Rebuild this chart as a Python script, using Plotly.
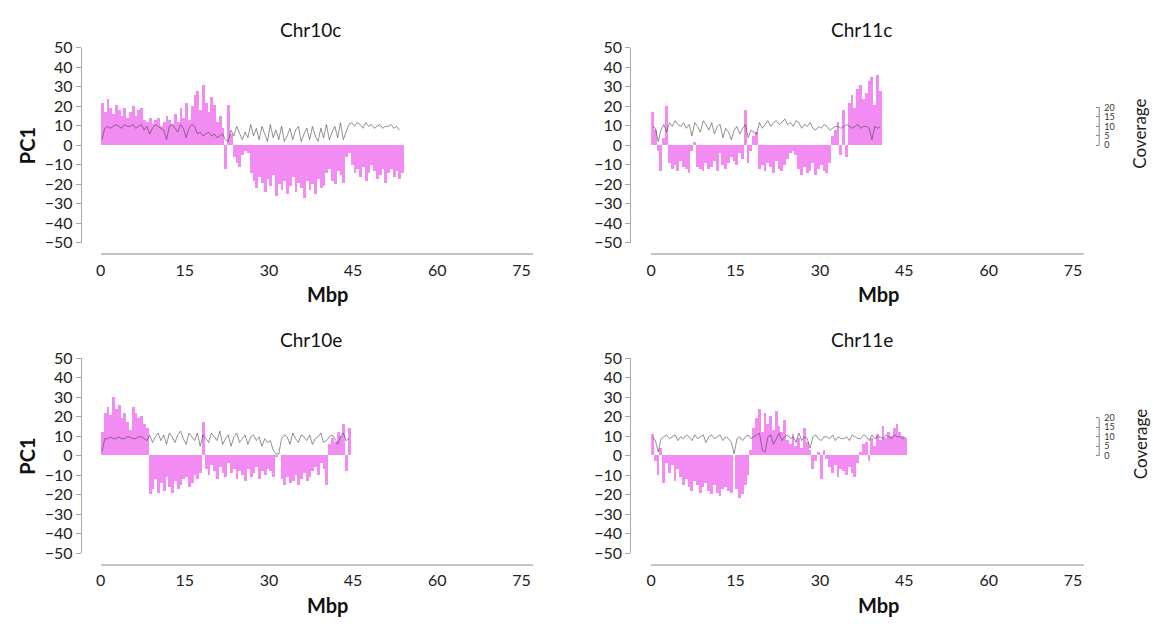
import numpy as np
import plotly.graph_objects as go

BIN = 0.5  # Mbp per bin

titles = ["Chr10c", "Chr11c", "Chr10e", "Chr11e"]
x_ticks = [0, 15, 30, 45, 60, 75]
y_ticks = [-50, -40, -30, -20, -10, 0, 10, 20, 30, 40, 50]
cov_ticks = [0, 5, 10, 15, 20]

pc1_chr10c = [22, 17, 24, 19, 16, 21, 18, 15, 19, 14, 17, 20, 15, 18, 19, 13,
              12, 14, 11, 13, 14, 10, 12, 15, 13, 11, 16, 12, 19, 14, 22, 13,
              20, 26, 28, 18, 31, 22, 17, 25, 21, 12, 15, 9, -12, 21, 6,
              -6, -9, -11, -5, -3, -4, -14, -18, -22, -16, -19, -24, -17, -21,
              -15, -26, -20, -23, -18, -25, -21, -16, -24, -19, -22, -27, -18, -23,
              -20, -25, -17, -22, -21, -14, -12, -18, -20, -13, -15, -19, -6, -4,
              -10, -14, -12, -16, -11, -18, -14, -10, -13, -17, -15, -12, -19, -14,
              -12, -16, -13, -17, -14]
cov_chr10c = [3, 9, 10, 9, 10, 11, 10, 9, 11, 10, 10, 11, 9, 10, 11, 8,
              10, 6, 9, 11, 10, 9, 8, 3, 10, 11, 9, 7, 11, 9, 4, 9,
              11, 10, 6, 7, 5, 6, 7, 5, 6, 4, 5, 6, 3, 2, 8,
              5, 10, 6, 3, 7, 4, 11, 5, 9, 3, 10, 6, 2, 11, 4,
              8, 3, 10, 2, 5, 9, 3, 8, 10, 2, 6, 9, 3, 10, 5,
              2, 9, 4, 11, 3, 7, 10, 4, 12, 3, 7, 11, 12, 10, 12,
              11, 9, 12, 10, 11, 9, 10, 11, 9, 10, 10, 11, 9, 10, 8]

pc1_chr11c = [17, 8, -3, -13, 4, 20, -9, -12, -10, -13, -8, -11, -12, -14, -3, 2,
              -11, -12, -13, -9, -12, -11, -8, -13, -4, -10, -12, -9, -6, -8,
              -10, -4, -7, 18, -9, -3, 5, 7, -12, -10, -13, -9, -11, -14, -8, -12,
              -13, -10, -7, -4, -3, -5, -12, -15, -11, -14, -13, -9, -15, -12,
              -10, -13, -14, -9, 5, 8, 12, -5, 18, -6, 22, 26, 19, 29, 31, 24,
              27, 33, 35, 21, 36, 28]
cov_chr11c = [10, 9, 2, 8, 11, 7, 12, 10, 13, 11, 10, 12, 9, 11, 5, 12,
              10, 7, 13, 11, 8, 12, 6, 10, 11, 4, 9, 7, 3, 8, 10, 6,
              9, 11, 4, 8, 7, 6, 12, 9, 11, 13, 10, 12, 13, 11, 12, 14,
              11, 12, 10, 13, 12, 9, 11, 10, 12, 9, 8, 10, 9, 11, 10, 8,
              9, 10, 10, 9, 10, 11, 10, 9, 10, 11, 9, 10, 10, 9, 3, 10, 9, 10]

pc1_chr10e = [12, 22, 25, 21, 30, 24, 26, 19, 22, 17, 13, 25, 22, 19, 20, 16,
              14, -20, -17, -12, -19, -14, -18, -11, -16, -19, -13, -17, -15, -12,
              -11, -16, -14, -10, -12, -9, 17, -7, -10, -5, -8, -12, -6, -9,
              -11, -4, -9, -7, -12, -8, -10, -13, -7, -11, -9, -6, -12, -8,
              -10, -7, -8, -11, -1, 0, -12, -15, -11, -14, -13, -10, -15, -12,
              -9, -13, -11, -8, -6, -10, -4, -7, -15, 6, 9, 7, 12, 10, 16, -8, 14]
cov_chr10e = [2, 9, 9, 10, 9, 9, 10, 9, 9, 10, 10, 9, 9, 10, 10, 9,
              8, 11, 7, 10, 12, 8, 11, 6, 12, 10, 7, 11, 13, 9, 6, 12,
              10, 8, 12, 5, 11, 9, 7, 12, 10, 8, 13, 6, 9, 11, 5, 10,
              12, 7, 9, 11, 6, 10, 11, 8, 10, 5, 9, 7, 8, 3, 1, 1,
              9, 11, 10, 6, 12, 9, 7, 11, 10, 8, 11, 6, 9, 10, 12, 7,
              8, 10, 11, 9, 6, 10, 12, 8, 9]

pc1_chr11e = [11, -3, -10, 4, -14, -4, -9, -5, -13, -7, -11, -15, -12, -16, -18, -13,
              -15, -19, -16, -14, -18, -20, -15, -19, -21, -17, -16, -18, -19, 0,
              -17, -22, -20, -15, -10, 3, 14, 19, 24, 12, 22, 16, 20, 13, 23, 15,
              12, 18, 8, 6, 11, 5, 9, 4, 14, 7, 3, -7, -3, 2, -12, 3, -2, -6,
              -9, -5, -11, -7, -8, -10, -6, -9, -11, -4, 2, 6, 7, -3, 9, 5,
              11, 8, 15, 9, 12, 10, 14, 16, 12, 10, 9]
cov_chr11e = [10, 8, 2, 9, 10, 11, 9, 10, 11, 8, 10, 9, 11, 10, 8, 11,
              9, 10, 11, 7, 10, 11, 9, 10, 11, 8, 10, 9, 7, 1, 9, 10,
              8, 10, 11, 9, 10, 11, 12, 3, 2, 10, 11, 6, 9, 12, 8, 10,
              11, 9, 10, 7, 12, 8, 10, 9, 4, 10, 11, 9, 8, 10, 10, 9,
              11, 8, 10, 9, 9, 10, 8, 11, 10, 9, 9, 11, 10, 8, 11, 9,
              10, 10, 9, 11, 10, 9, 11, 10, 10, 9, 10]

pc1_series = [pc1_chr10c, pc1_chr11c, pc1_chr10e, pc1_chr11e]
cov_series = [cov_chr10c, cov_chr11c, cov_chr10e, cov_chr11e]

W, H = 1153, 634
def fx(px):
    return px / W
def fy(py):
    return 1 - py / H

# panel geometry in window pixels
cols = [(96, 530, 76), (649, 1084, 628)]   # x_left, x_right, y-axis x
rows = [(39, 240, 252), (359, 560, 572)]   # y_top, y_bottom, x-axis y

PINK = "rgb(242,140,242)"
FONT = "Lato"
fig = go.Figure()
layout = dict(
    width=W, height=H, margin=dict(l=0, r=0, t=0, b=0),
    paper_bgcolor="white", plot_bgcolor="white", showlegend=False,
    font=dict(family=FONT, color="#222"), bargap=0,
)
annotations = []
shapes = []

for i in range(4):
    r, c = divmod(i, 2)
    xl, xr, yx = cols[c]
    yt, yb, xay = rows[r]
    n = i + 1
    xa = "x" if n == 1 else f"x{n}"
    ya = "y" if n == 1 else f"y{n}"
    ca = f"y{n + 4}"
    pc1 = pc1_series[i]
    cov = cov_series[i]
    xs_b = np.arange(len(pc1)) * BIN + BIN / 2
    xs_c = np.arange(len(cov)) * BIN + BIN / 2
    fig.add_trace(go.Bar(x=xs_b, y=pc1, width=BIN, marker=dict(color=PINK, line=dict(width=0)),
                         xaxis=xa, yaxis=ya))
    fig.add_trace(go.Scatter(x=xs_c, y=cov, mode="lines", line=dict(color="rgba(60,60,60,0.7)", width=0.8),
                             xaxis=xa, yaxis=ca))
    xkey = "xaxis" if n == 1 else f"xaxis{n}"
    ykey = "yaxis" if n == 1 else f"yaxis{n}"
    ckey = f"yaxis{n + 4}"
    layout[xkey] = dict(domain=[fx(xl), fx(xr)], range=[0, 77], anchor="free", position=fy(xay),
                        tickvals=x_ticks, showline=True, linecolor="#C4C4C4", linewidth=2,
                        ticks="", showgrid=False, zeroline=False, tickfont=dict(size=16, family=FONT, color="#222"),
                        ticklabelstandoff=1)
    layout[ykey] = dict(domain=[fy(yb), fy(yt)], range=[-50, 50], anchor="free", position=fx(yx),
                        tickvals=y_ticks, showline=True, linecolor="#A8A8A8", linewidth=1,
                        ticks="outside", ticklen=5, tickcolor="#A8A8A8", showgrid=False, zeroline=False,
                        tickfont=dict(size=16, family=FONT, color="#222"))
    cov_cfg = dict(overlaying=ya, range=[-51.5, 51.5], showgrid=False, zeroline=False)
    if c == 1:
        cov_cfg.update(anchor="free", position=fx(1099), side="right", tickvals=cov_ticks,
                       ticks="inside", ticklen=3, tickcolor="#888", showline=False,
                       tickfont=dict(size=9, family=FONT, color="#333"), ticklabelstandoff=4)
        shapes.append(dict(type="line", xref="paper", yref=ca, x0=fx(1099), x1=fx(1099), y0=0, y1=20,
                           line=dict(color="#888", width=1)))
        annotations.append(dict(text="Coverage", x=fx(1140), y=fy((yt + yb) / 2 - 12), xref="paper", yref="paper",
                                textangle=-90, showarrow=False, font=dict(size=17, family=FONT, color="#222"),
                                xanchor="center", yanchor="middle"))
    else:
        cov_cfg.update(visible=False)
    layout[ckey] = cov_cfg
    annotations.append(dict(text=titles[i], x=fx((xl + xr) / 2 - 6), y=fy(yt - 19), xref="paper", yref="paper",
                            showarrow=False, font=dict(size=19, family=FONT, color="#111"),
                            xanchor="center", yanchor="middle"))
    annotations.append(dict(text="<b>Mbp</b>", x=fx(xl + 228), y=fy(xay + 41), xref="paper", yref="paper",
                            showarrow=False, font=dict(size=20, family=FONT, color="#111"),
                            xanchor="center", yanchor="middle"))
    if c == 0:
        annotations.append(dict(text="<b>PC1</b>", x=fx(22), y=fy((yt + yb) / 2), xref="paper", yref="paper",
                                textangle=-90, showarrow=False, font=dict(size=20, family=FONT, color="#111"),
                                xanchor="center", yanchor="middle"))

layout["annotations"] = annotations
layout["shapes"] = shapes
fig.update_layout(**layout)
fig.write_html("out.html", post_script="document.body.style.margin='0';document.body.style.overflow='hidden';")
